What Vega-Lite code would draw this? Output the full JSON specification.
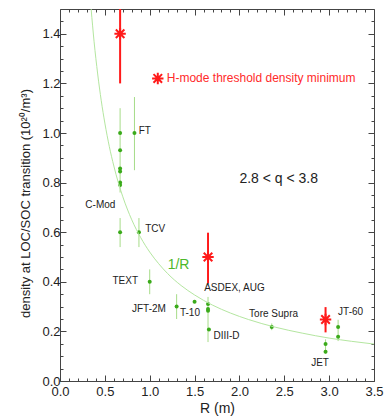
{
  "$schema": "https://vega.github.io/schema/vega-lite/v6.json",
  "autosize": "none",
  "width": 314,
  "height": 372,
  "padding": {"left": 60, "top": 9, "right": 12, "bottom": 37},
  "background": "white",
  "config": {
    "view": {"stroke": "#444", "strokeWidth": 1},
    "font": "Liberation Sans",
    "axis": {"domain": false, "grid": false, "tickColor": "#444", "labelColor": "#222", "titleColor": "#222", "labelFont": "Liberation Sans", "titleFont": "Liberation Sans", "labelFontSize": 13, "titleFontSize": 14, "titleFontWeight": "normal"}
  },
  "datasets": {
    "greenPts": [
      {"R": 0.67, "n": 1.0}, {"R": 0.67, "n": 0.93}, {"R": 0.67, "n": 0.857}, {"R": 0.67, "n": 0.845},
      {"R": 0.67, "n": 0.8}, {"R": 0.67, "n": 0.79}, {"R": 0.83, "n": 1.0},
      {"R": 0.67, "n": 0.6}, {"R": 0.88, "n": 0.6}, {"R": 1.0, "n": 0.4}, {"R": 1.3, "n": 0.3},
      {"R": 1.5, "n": 0.32}, {"R": 1.65, "n": 0.31}, {"R": 1.65, "n": 0.29}, {"R": 1.65, "n": 0.283},
      {"R": 1.66, "n": 0.208}, {"R": 2.36, "n": 0.218}, {"R": 2.96, "n": 0.149}, {"R": 2.96, "n": 0.118},
      {"R": 3.1, "n": 0.218}, {"R": 3.1, "n": 0.178}
    ],
    "greenBars": [
      {"R": 0.67, "lo": 0.76, "hi": 1.1}, {"R": 0.83, "lo": 0.85, "hi": 1.145},
      {"R": 0.67, "lo": 0.54, "hi": 0.657}, {"R": 0.88, "lo": 0.54, "hi": 0.657},
      {"R": 1.0, "lo": 0.35, "hi": 0.45}, {"R": 1.3, "lo": 0.25, "hi": 0.35},
      {"R": 1.65, "lo": 0.157, "hi": 0.339}, {"R": 2.36, "lo": 0.205, "hi": 0.232},
      {"R": 2.96, "lo": 0.11, "hi": 0.168}, {"R": 3.1, "lo": 0.161, "hi": 0.247}
    ],
    "hmode": [
      {"R": 0.67, "n": 1.4, "lo": 1.2, "hi": 1.5},
      {"R": 1.65, "n": 0.5, "lo": 0.393, "hi": 0.598},
      {"R": 2.96, "n": 0.248, "lo": 0.196, "hi": 0.298}
    ],
    "hmodeKey": [{"R": 1.09, "n": 1.22, "label": "H-mode threshold density minimum"}],
    "curve": [
      {"R": 0.347, "n": 1.5}, {"R": 0.38, "n": 1.368}, {"R": 0.42, "n": 1.238}, {"R": 0.46, "n": 1.13},
      {"R": 0.5, "n": 1.04}, {"R": 0.55, "n": 0.945}, {"R": 0.6, "n": 0.867}, {"R": 0.65, "n": 0.8},
      {"R": 0.7, "n": 0.743}, {"R": 0.8, "n": 0.65}, {"R": 0.9, "n": 0.578}, {"R": 1.0, "n": 0.52},
      {"R": 1.1, "n": 0.473}, {"R": 1.2, "n": 0.433}, {"R": 1.35, "n": 0.385}, {"R": 1.5, "n": 0.347},
      {"R": 1.7, "n": 0.306}, {"R": 1.9, "n": 0.274}, {"R": 2.1, "n": 0.248}, {"R": 2.4, "n": 0.217},
      {"R": 2.7, "n": 0.193}, {"R": 3.0, "n": 0.173}, {"R": 3.25, "n": 0.16}, {"R": 3.5, "n": 0.149}
    ],
    "labelsLeft": [
      {"R": 0.877, "n": 1.01, "label": "FT"},
      {"R": 0.95, "n": 0.612, "label": "TCV"},
      {"R": 1.607, "n": 0.373, "label": "ASDEX, AUG"},
      {"R": 1.71, "n": 0.181, "label": "DIII-D"},
      {"R": 2.108, "n": 0.272, "label": "Tore Supra"},
      {"R": 2.8, "n": 0.073, "label": "JET"},
      {"R": 3.1, "n": 0.278, "label": "JT-60"}
    ],
    "labelsRight": [
      {"R": 0.617, "n": 0.711, "label": "C-Mod"},
      {"R": 0.87, "n": 0.403, "label": "TEXT"},
      {"R": 1.18, "n": 0.292, "label": "JFT-2M"},
      {"R": 1.56, "n": 0.274, "label": "T-10"}
    ],
    "fitLabel": [{"R": 1.2, "n": 0.467, "label": "1/R"}],
    "qLabel": [{"R": 2.0, "n": 0.816, "label": "2.8 < q < 3.8"}]
  },
  "resolve": {"axis": {"x": "independent", "y": "independent"}},
  "layer": [
    {
      "data": {"name": "greenBars"},
      "mark": {"type": "rule", "color": "#a6dc88", "strokeWidth": 1},
      "encoding": {
        "x": {"field": "R", "type": "quantitative", "scale": {"domain": [0, 3.5], "nice": false},
          "axis": {"orient": "bottom", "values": [0, 0.5, 1, 1.5, 2, 2.5, 3, 3.5], "format": ".1f", "tickSize": -6, "labelPadding": 10, "title": "R (m)", "titlePadding": 3, "labelFlush": false}},
        "y": {"field": "lo", "type": "quantitative", "scale": {"domain": [0, 1.5], "nice": false},
          "axis": {"orient": "left", "values": [0, 0.2, 0.4, 0.6, 0.8, 1.0, 1.2, 1.4], "format": ".1f", "tickSize": -6, "labelPadding": 6, "title": "density at LOC/SOC transition (10²⁰/m³)", "titleFontSize": 13, "titleY": 194, "titlePadding": 9, "labelFlush": false}},
        "y2": {"field": "hi"}
      }
    },
    {
      "data": {"name": "greenPts"},
      "mark": {"type": "point", "filled": true, "shape": "circle", "size": 16, "color": "#3aaa1a", "opacity": 1},
      "encoding": {
        "x": {"field": "R", "type": "quantitative", "scale": {"domain": [0, 3.5], "nice": false},
          "axis": {"orient": "bottom", "values": [0.1,0.2,0.3,0.4,0.6,0.7,0.8,0.9,1.1,1.2,1.3,1.4,1.6,1.7,1.8,1.9,2.1,2.2,2.3,2.4,2.6,2.7,2.8,2.9,3.1,3.2,3.3,3.4], "tickSize": -3, "labels": false, "title": null}},
        "y": {"field": "n", "type": "quantitative", "scale": {"domain": [0, 1.5], "nice": false},
          "axis": {"orient": "left", "values": [0.05,0.1,0.15,0.25,0.3,0.35,0.45,0.5,0.55,0.65,0.7,0.75,0.85,0.9,0.95,1.05,1.1,1.15,1.25,1.3,1.35,1.45], "tickSize": -3, "labels": false, "title": null}}
      }
    },
    {
      "data": {"name": "curve"},
      "mark": {"type": "line", "color": "#b4e6a0", "strokeWidth": 1, "interpolate": "monotone", "clip": true},
      "encoding": {
        "x": {"field": "R", "type": "quantitative", "scale": {"domain": [0, 3.5], "nice": false},
          "axis": {"orient": "top", "values": [0, 0.5, 1, 1.5, 2, 2.5, 3, 3.5], "tickSize": -6, "labels": false, "title": null}},
        "y": {"field": "n", "type": "quantitative", "scale": {"domain": [0, 1.5], "nice": false},
          "axis": {"orient": "right", "values": [0, 0.2, 0.4, 0.6, 0.8, 1.0, 1.2, 1.4], "tickSize": -6, "labels": false, "title": null}}
      }
    },
    {
      "data": {"name": "hmode"},
      "mark": {"type": "rule", "color": "#ff1a1a", "strokeWidth": 2, "clip": true},
      "encoding": {
        "x": {"field": "R", "type": "quantitative", "scale": {"domain": [0, 3.5], "nice": false},
          "axis": {"orient": "top", "values": [0.1,0.2,0.3,0.4,0.6,0.7,0.8,0.9,1.1,1.2,1.3,1.4,1.6,1.7,1.8,1.9,2.1,2.2,2.3,2.4,2.6,2.7,2.8,2.9,3.1,3.2,3.3,3.4], "tickSize": -3, "labels": false, "title": null}},
        "y": {"field": "lo", "type": "quantitative", "scale": {"domain": [0, 1.5], "nice": false},
          "axis": {"orient": "right", "values": [0.05,0.1,0.15,0.25,0.3,0.35,0.45,0.5,0.55,0.65,0.7,0.75,0.85,0.9,0.95,1.05,1.1,1.15,1.25,1.3,1.35,1.45], "tickSize": -3, "labels": false, "title": null}},
        "y2": {"field": "hi"}
      }
    },
    {
      "data": {"name": "hmode"},
      "mark": {"type": "point", "shape": "M-1,0L1,0M0,-1L0,1M-0.75,-0.75L0.75,0.75M-0.75,0.75L0.75,-0.75", "size": 130, "color": "#ff1a1a", "strokeWidth": 2, "filled": false, "opacity": 1},
      "encoding": {
        "x": {"field": "R", "type": "quantitative", "axis": null},
        "y": {"field": "n", "type": "quantitative", "axis": null}
      }
    },
    {
      "data": {"name": "hmodeKey"},
      "mark": {"type": "point", "shape": "M-1,0L1,0M0,-1L0,1M-0.75,-0.75L0.75,0.75M-0.75,0.75L0.75,-0.75", "size": 130, "color": "#ff1a1a", "strokeWidth": 2, "filled": false, "opacity": 1},
      "encoding": {
        "x": {"field": "R", "type": "quantitative", "axis": null},
        "y": {"field": "n", "type": "quantitative", "axis": null}
      }
    },
    {
      "data": {"name": "hmodeKey"},
      "mark": {"type": "text", "align": "left", "baseline": "middle", "dx": 9, "fontSize": 12, "color": "#ff2a2a", "font": "Liberation Sans"},
      "encoding": {
        "x": {"field": "R", "type": "quantitative", "axis": null},
        "y": {"field": "n", "type": "quantitative", "axis": null},
        "text": {"field": "label"}
      }
    },
    {
      "data": {"name": "labelsLeft"},
      "mark": {"type": "text", "align": "left", "baseline": "middle", "fontSize": 10, "color": "#222", "font": "Liberation Sans"},
      "encoding": {
        "x": {"field": "R", "type": "quantitative", "axis": null},
        "y": {"field": "n", "type": "quantitative", "axis": null},
        "text": {"field": "label"}
      }
    },
    {
      "data": {"name": "labelsRight"},
      "mark": {"type": "text", "align": "right", "baseline": "middle", "fontSize": 10, "color": "#222", "font": "Liberation Sans"},
      "encoding": {
        "x": {"field": "R", "type": "quantitative", "axis": null},
        "y": {"field": "n", "type": "quantitative", "axis": null},
        "text": {"field": "label"}
      }
    },
    {
      "data": {"name": "fitLabel"},
      "mark": {"type": "text", "align": "left", "baseline": "middle", "fontSize": 14, "color": "#4cb82a", "font": "Liberation Sans"},
      "encoding": {
        "x": {"field": "R", "type": "quantitative", "axis": null},
        "y": {"field": "n", "type": "quantitative", "axis": null},
        "text": {"field": "label"}
      }
    },
    {
      "data": {"name": "qLabel"},
      "mark": {"type": "text", "align": "left", "baseline": "middle", "fontSize": 14, "color": "#222", "font": "Liberation Sans"},
      "encoding": {
        "x": {"field": "R", "type": "quantitative", "axis": null},
        "y": {"field": "n", "type": "quantitative", "axis": null},
        "text": {"field": "label"}
      }
    }
  ]
}
